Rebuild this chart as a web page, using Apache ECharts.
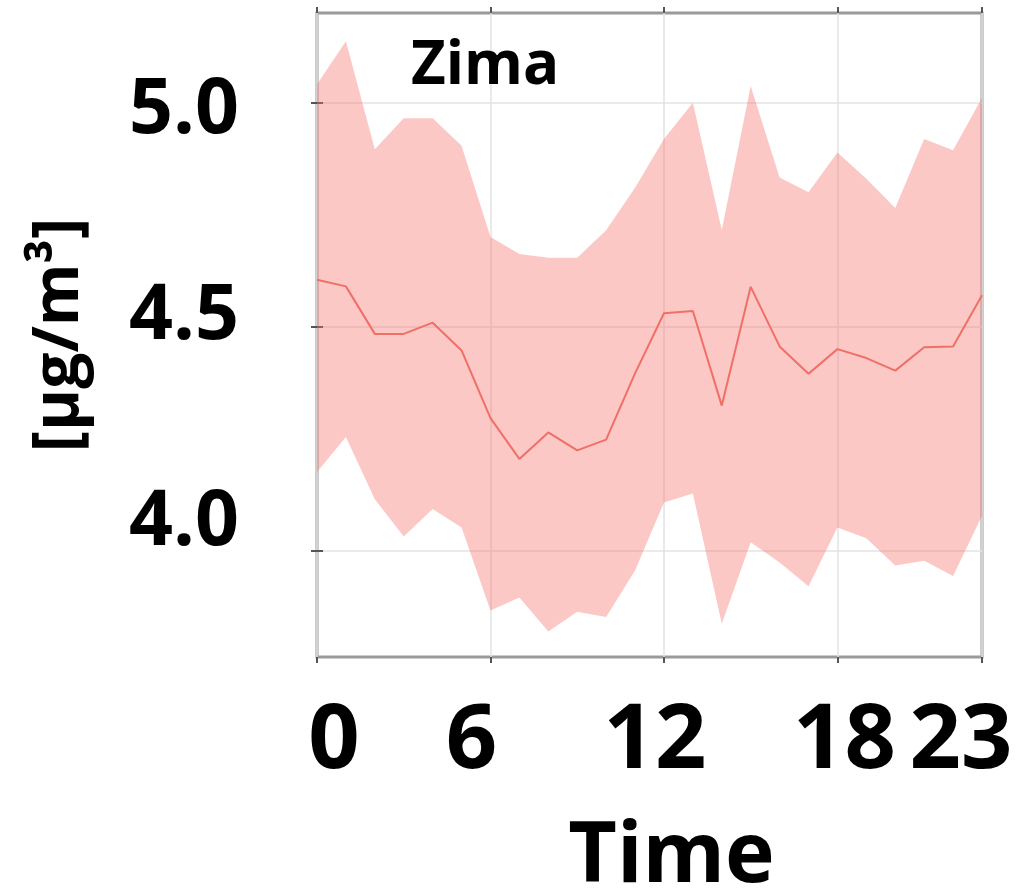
<!DOCTYPE html>
<html>
<head>
<meta charset="utf-8">
<script src="https://cdn.jsdelivr.net/npm/echarts@6/dist/echarts.min.js"></script>
<style>
  html, body { margin: 0; padding: 0; background: #fff; }
  #chart { width: 1023px; height: 888px; }
</style>
</head>
<body>
<div id="chart"></div>
<script>
// Hourly concentration, winter ("Zima"): mean with lower/upper band
const hours = [0,1,2,3,4,5,6,7,8,9,10,11,12,13,14,15,16,17,18,19,20,21,22,23];
const meanValues = [4.605,4.590,4.484,4.484,4.509,4.447,4.296,4.205,4.264,4.224,4.248,4.396,
                    4.530,4.535,4.324,4.589,4.456,4.395,4.450,4.430,4.402,4.454,4.456,4.570];
const upperValues = [5.041,5.137,4.896,4.965,4.965,4.904,4.700,4.662,4.654,4.654,4.715,4.810,
                     4.919,5.000,4.716,5.037,4.833,4.800,4.889,4.830,4.765,4.919,4.894,5.011];
const lowerValues = [4.176,4.254,4.115,4.032,4.093,4.052,3.867,3.896,3.820,3.864,3.852,3.956,
                     4.108,4.128,3.837,4.019,3.974,3.921,4.052,4.028,3.967,3.978,3.944,4.078];
const xTicks = [0, 6, 12, 18, 23];
const yTicks = [4.0, 4.5, 5.0];
const titleText = 'Zima';
const xName = 'Time';
const yName = '[μg/m³]';

const FONT = 'Open Sans';
const bandColor = 'rgba(244, 110, 105, 0.38)';
const lineColor = '#f06f67';

// label nudges (px): x labels sideways, y labels up/down
const xLabelShift = [17, -19, -9, 7, -21];
const yLabelShift = [-28, -10, 8];

const xLabelFont = { fontFamily: FONT, fontWeight: 'bold', fontSize: 90, color: '#000' };
const yLabelFont = { fontFamily: FONT, fontWeight: 'bold', fontSize: 77, color: '#000' };

const xRich = {};
xTicks.forEach((t, i) => {
  const s = xLabelShift[i];
  xRich['x' + i] = Object.assign({}, xLabelFont, {
    padding: s >= 0 ? [0, 0, 0, 2 * s] : [0, -2 * s, 0, 0]
  });
});
const yRich = {};
yTicks.forEach((t, i) => {
  const s = yLabelShift[i];
  yRich['y' + i] = Object.assign({}, yLabelFont, {
    padding: s >= 0 ? [2 * s, 0, 0, 0] : [0, 0, -2 * s, 0]
  });
});

const chart = echarts.init(document.getElementById('chart'), null, { renderer: 'canvas' });

const pairs = (vals) => hours.map((h, i) => [h, vals[i]]);

// band polygon: upper edge left→right, lower edge right→left
function renderBand(params, api) {
  const pts = [];
  for (let i = 0; i < hours.length; i++) pts.push(api.coord([hours[i], upperValues[i]]));
  for (let i = hours.length - 1; i >= 0; i--) pts.push(api.coord([hours[i], lowerValues[i]]));
  return {
    type: 'polygon',
    shape: { points: pts },
    style: { fill: bandColor, stroke: 'none' },
    silent: true
  };
}

const option = {
  backgroundColor: '#ffffff',
  animation: false,
  title: {
    text: titleText,
    left: 406,
    top: 32,
    textStyle: { fontFamily: FONT, fontWeight: 'bold', fontSize: 60, color: '#000' }
  },
  grid: {
    left: 317, right: 41, top: 13, bottom: 231,
    outerBoundsMode: 'none', containLabel: false,
    show: true, borderColor: '#9a9a9a', borderWidth: 3, backgroundColor: 'transparent'
  },
  xAxis: [{
    type: 'value', min: 0, max: 23, position: 'bottom',
    name: xName, nameLocation: 'middle', nameGap: 159,
    nameTextStyle: { fontFamily: FONT, fontWeight: 'bold', fontSize: 84, color: '#000',
                     padding: [0, 0, 0, 44] },
    axisLine: { show: false },
    axisTick: { show: true, customValues: xTicks, length: 6, lineStyle: { color: '#555', width: 2 } },
    axisLabel: Object.assign({
      customValues: xTicks, margin: 40,
      formatter: (v) => {
        const i = xTicks.indexOf(v);
        return i < 0 ? '' : '{x' + i + '|' + v + '}';
      },
      rich: xRich
    }, xLabelFont),
    splitLine: { show: true, lineStyle: { color: '#e3e3e3', width: 1.5 } }
  }, {
    type: 'value', min: 0, max: 23, position: 'top',
    axisLine: { show: false },
    axisTick: { show: true, customValues: xTicks, length: 6, lineStyle: { color: '#555', width: 2 } },
    axisLabel: { show: false },
    splitLine: { show: false }
  }],
  yAxis: [{
    type: 'value', min: 3.763, max: 5.2, position: 'left',
    name: yName, nameLocation: 'middle', nameGap: 225,
    nameTextStyle: { fontFamily: FONT, fontWeight: 'bold', fontSize: 64, color: '#000' },
    axisLine: { show: false },
    axisTick: { show: true, customValues: yTicks, length: 6, lineStyle: { color: '#555', width: 2 } },
    axisLabel: Object.assign({
      customValues: yTicks, margin: 78,
      formatter: (v) => {
        const i = yTicks.findIndex(t => Math.abs(t - v) < 1e-6);
        return i < 0 ? '' : '{y' + i + '|' + v.toFixed(1) + '}';
      },
      rich: yRich
    }, yLabelFont),
    splitLine: { show: true, lineStyle: { color: '#e3e3e3', width: 1.5 } }
  }, {
    type: 'value', min: 3.763, max: 5.2, position: 'right',
    axisLine: { show: false },
    axisTick: { show: true, customValues: yTicks, length: 6, lineStyle: { color: '#555', width: 2 } },
    axisLabel: { show: false },
    splitLine: { show: false }
  }],
  series: [
    {
      name: 'band', type: 'custom', coordinateSystem: 'cartesian2d',
      data: [[0, lowerValues[0]]], renderItem: renderBand, clip: true, silent: true, z: 1
    },
    {
      name: 'mean', type: 'line', data: pairs(meanValues),
      symbol: 'none', lineStyle: { color: lineColor, width: 2 }, z: 3
    }
  ]
};

chart.setOption(option);
</script>
</body>
</html>
